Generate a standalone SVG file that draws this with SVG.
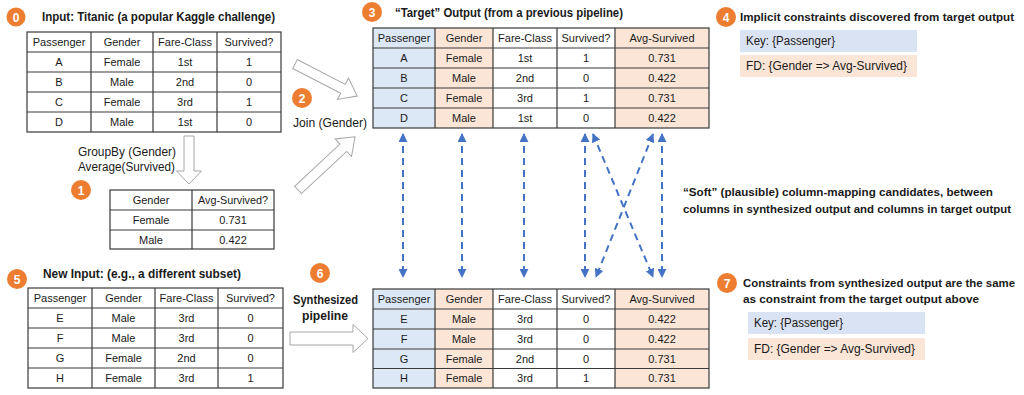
<svg xmlns="http://www.w3.org/2000/svg" width="1024" height="395" viewBox="0 0 1024 395">
<style>
text{font-family:"Liberation Sans",Arial,sans-serif;fill:#1a1a1a}
.c{font-size:11px;text-anchor:middle}
.t{font-size:12px;font-weight:bold}
.ts{font-size:10.8px;font-weight:bold}
.r{font-size:12px}
.grid{stroke:#3a3a3a;stroke-width:1.2;fill:none}
.blue{fill:#dce8f5}
.kblue{fill:#dae3f3}
.pink{fill:#fbe5d6}
.num circle{fill:#ed7d31}
.num text{fill:#fff;font-size:12px;font-weight:bold;text-anchor:middle}
.hollow{fill:#fff;stroke:#a6a6a6;stroke-width:1}
.dash{stroke:#4472c4;stroke-width:2;stroke-dasharray:7,5;fill:none}
</style>
<defs>
<marker id="ah" viewBox="0 0 10 10" refX="9" refY="5" markerWidth="4.5" markerHeight="4.5" orient="auto-start-reverse" markerUnits="strokeWidth">
<path d="M0,0 L10,5 L0,10 z" fill="#4472c4"/>
</marker>
</defs>
<rect width="1024" height="395" fill="#fff"/>

<!-- Node 0: input table -->
<g id="node0">
<g class="num"><circle cx="16" cy="17" r="9.5"/><text x="16" y="21.5">0</text></g>
<text class="t" x="42" y="21" textLength="233" lengthAdjust="spacingAndGlyphs">Input: Titanic (a popular Kaggle challenge)</text>
<rect class="grid" x="27" y="32" width="254" height="100"/>
<path class="grid" d="M27,52H281M27,72H281M27,92H281M27,112H281M91,32V132M153,32V132M217,32V132"/>
<text class="c" x="59" y="46">Passenger</text><text class="c" x="122" y="46">Gender</text><text class="c" x="185" y="46">Fare-Class</text><text class="c" x="249" y="46">Survived?</text>
<text class="c" x="59" y="66">A</text><text class="c" x="122" y="66">Female</text><text class="c" x="185" y="66">1st</text><text class="c" x="249" y="66">1</text>
<text class="c" x="59" y="86">B</text><text class="c" x="122" y="86">Male</text><text class="c" x="185" y="86">2nd</text><text class="c" x="249" y="86">0</text>
<text class="c" x="59" y="106">C</text><text class="c" x="122" y="106">Female</text><text class="c" x="185" y="106">3rd</text><text class="c" x="249" y="106">1</text>
<text class="c" x="59" y="126">D</text><text class="c" x="122" y="126">Male</text><text class="c" x="185" y="126">1st</text><text class="c" x="249" y="126">0</text>
</g>

<!-- Node 1: groupby table -->
<g id="node1">
<text class="r" x="78" y="156" textLength="98" lengthAdjust="spacingAndGlyphs">GroupBy (Gender)</text>
<text class="r" x="78" y="171" textLength="97" lengthAdjust="spacingAndGlyphs">Average(Survived)</text>
<g class="num"><circle cx="81" cy="190" r="10"/><text x="81" y="194.5">1</text></g>
<rect class="grid" x="110" y="190" width="164" height="59"/>
<path class="grid" d="M110,210H274M110,230H274M192,190V249"/>
<text class="c" x="151" y="204">Gender</text><text class="c" x="233" y="204" textLength="70" lengthAdjust="spacingAndGlyphs">Avg-Survived?</text>
<text class="c" x="151" y="224">Female</text><text class="c" x="233" y="224">0.731</text>
<text class="c" x="151" y="244">Male</text><text class="c" x="233" y="244">0.422</text>
</g>

<!-- Node 2: join -->
<g id="node2">
<g class="num"><circle cx="302" cy="98" r="10"/><text x="302" y="102.5">2</text></g>
<text class="r" x="293" y="127" textLength="74" lengthAdjust="spacingAndGlyphs">Join (Gender)</text>
</g>

<!-- Node 3: target output -->
<g id="node3">
<g class="num"><circle cx="372" cy="12" r="10"/><text x="372" y="16.5">3</text></g>
<text class="t" x="395" y="17" textLength="228" lengthAdjust="spacingAndGlyphs">“Target” Output (from a previous pipeline)</text>
<rect class="blue" x="373" y="28" width="62" height="100"/>
<rect class="pink" x="435" y="28" width="58" height="100"/>
<rect class="pink" x="615" y="28" width="94" height="100"/>
<rect class="grid" x="373" y="28" width="336" height="100"/>
<path class="grid" d="M373,48H709M373,68H709M373,88H709M373,108H709M435,28V128M493,28V128M557,28V128M615,28V128"/>
<text class="c" x="404" y="42">Passenger</text><text class="c" x="464" y="42">Gender</text><text class="c" x="525" y="42">Fare-Class</text><text class="c" x="586" y="42">Survived?</text><text class="c" x="662" y="42">Avg-Survived</text>
<text class="c" x="404" y="62">A</text><text class="c" x="464" y="62">Female</text><text class="c" x="525" y="62">1st</text><text class="c" x="586" y="62">1</text><text class="c" x="662" y="62">0.731</text>
<text class="c" x="404" y="82">B</text><text class="c" x="464" y="82">Male</text><text class="c" x="525" y="82">2nd</text><text class="c" x="586" y="82">0</text><text class="c" x="662" y="82">0.422</text>
<text class="c" x="404" y="102">C</text><text class="c" x="464" y="102">Female</text><text class="c" x="525" y="102">3rd</text><text class="c" x="586" y="102">1</text><text class="c" x="662" y="102">0.731</text>
<text class="c" x="404" y="122">D</text><text class="c" x="464" y="122">Male</text><text class="c" x="525" y="122">1st</text><text class="c" x="586" y="122">0</text><text class="c" x="662" y="122">0.422</text>
</g>

<!-- Node 4: constraints -->
<g id="node4">
<g class="num"><circle cx="726" cy="17" r="10"/><text x="726" y="21.5">4</text></g>
<text class="ts" x="740" y="21" textLength="274" lengthAdjust="spacingAndGlyphs">Implicit constraints discovered from target output</text>
<rect class="kblue" x="740" y="30" width="177" height="22"/>
<rect class="pink" x="740" y="55" width="177" height="22"/>
<text class="r" x="746" y="45" textLength="89" lengthAdjust="spacingAndGlyphs">Key: {Passenger}</text>
<text class="r" x="746" y="70" textLength="161" lengthAdjust="spacingAndGlyphs">FD: {Gender =&gt; Avg-Survived}</text>
</g>

<!-- Node 5: new input -->
<g id="node5">
<g class="num"><circle cx="17" cy="279" r="10"/><text x="17" y="283.5">5</text></g>
<text class="t" x="43" y="278" textLength="198" lengthAdjust="spacingAndGlyphs">New Input: (e.g., a different subset)</text>
<rect class="grid" x="28" y="288" width="255" height="100"/>
<path class="grid" d="M28,308H283M28,328H283M28,348H283M28,368H283M92,288V388M155,288V388M218,288V388"/>
<text class="c" x="60" y="302">Passenger</text><text class="c" x="123.5" y="302">Gender</text><text class="c" x="186.5" y="302">Fare-Class</text><text class="c" x="250.5" y="302">Survived?</text>
<text class="c" x="60" y="322">E</text><text class="c" x="123.5" y="322">Male</text><text class="c" x="186.5" y="322">3rd</text><text class="c" x="250.5" y="322">0</text>
<text class="c" x="60" y="342">F</text><text class="c" x="123.5" y="342">Male</text><text class="c" x="186.5" y="342">3rd</text><text class="c" x="250.5" y="342">0</text>
<text class="c" x="60" y="362">G</text><text class="c" x="123.5" y="362">Female</text><text class="c" x="186.5" y="362">2nd</text><text class="c" x="250.5" y="362">0</text>
<text class="c" x="60" y="382">H</text><text class="c" x="123.5" y="382">Female</text><text class="c" x="186.5" y="382">3rd</text><text class="c" x="250.5" y="382">1</text>
</g>

<!-- Node 6: synthesized pipeline -->
<g id="node6">
<g class="num"><circle cx="320" cy="273" r="10"/><text x="320" y="277.5">6</text></g>
<text class="t" x="325.5" y="304" text-anchor="middle" textLength="65" lengthAdjust="spacingAndGlyphs">Synthesized</text>
<text class="t" x="325" y="320" text-anchor="middle" textLength="46" lengthAdjust="spacingAndGlyphs">pipeline</text>
</g>

<!-- Synthesized output table -->
<g id="synth-output">
<rect class="blue" x="373" y="289" width="62" height="99"/>
<rect class="pink" x="435" y="289" width="58" height="99"/>
<rect class="pink" x="615" y="289" width="94" height="99"/>
<rect class="grid" x="373" y="289" width="336" height="99"/>
<path class="grid" d="M373,309H709M373,329H709M373,349H709M373,368.5H709M435,289V388M493,289V388M557,289V388M615,289V388"/>
<text class="c" x="404" y="303">Passenger</text><text class="c" x="464" y="303">Gender</text><text class="c" x="525" y="303">Fare-Class</text><text class="c" x="586" y="303">Survived?</text><text class="c" x="662" y="303">Avg-Survived</text>
<text class="c" x="404" y="323">E</text><text class="c" x="464" y="323">Male</text><text class="c" x="525" y="323">3rd</text><text class="c" x="586" y="323">0</text><text class="c" x="662" y="323">0.422</text>
<text class="c" x="404" y="343">F</text><text class="c" x="464" y="343">Male</text><text class="c" x="525" y="343">3rd</text><text class="c" x="586" y="343">0</text><text class="c" x="662" y="343">0.422</text>
<text class="c" x="404" y="362.5">G</text><text class="c" x="464" y="362.5">Female</text><text class="c" x="525" y="362.5">2nd</text><text class="c" x="586" y="362.5">0</text><text class="c" x="662" y="362.5">0.731</text>
<text class="c" x="404" y="382">H</text><text class="c" x="464" y="382">Female</text><text class="c" x="525" y="382">3rd</text><text class="c" x="586" y="382">1</text><text class="c" x="662" y="382">0.731</text>
</g>

<!-- Soft mapping label -->
<g id="soft-label">
<text class="ts" x="683" y="196" textLength="310" lengthAdjust="spacingAndGlyphs">“Soft” (plausible) column-mapping candidates, between</text>
<text class="ts" x="683" y="213" textLength="328" lengthAdjust="spacingAndGlyphs">columns in synthesized output and columns in target output</text>
</g>

<!-- Node 7 -->
<g id="node7">
<g class="num"><circle cx="727" cy="283" r="10"/><text x="727" y="287.5">7</text></g>
<text class="ts" x="743" y="287" textLength="272" lengthAdjust="spacingAndGlyphs">Constraints from synthesized output are the same</text>
<text class="ts" x="743" y="303" textLength="236" lengthAdjust="spacingAndGlyphs">as constraint from the target output above</text>
<rect class="kblue" x="748" y="312" width="177" height="22"/>
<rect class="pink" x="748" y="338" width="177" height="22"/>
<text class="r" x="754" y="327" textLength="89" lengthAdjust="spacingAndGlyphs">Key: {Passenger}</text>
<text class="r" x="754" y="353" textLength="161" lengthAdjust="spacingAndGlyphs">FD: {Gender =&gt; Avg-Survived}</text>
</g>

<!-- Connectors -->
<g id="connectors">
<polygon class="hollow" transform="translate(189,136) rotate(90)" points="0,-5 35,-5 35,-12.5 48,0 35,12.5 35,5 0,5"/>
<polygon class="hollow" transform="translate(295,64) rotate(27.3)" points="0,-5 54,-5 54,-12 70,0 54,12 54,5 0,5"/>
<polygon class="hollow" transform="translate(298,190) rotate(-43)" points="0,-5 62,-5 62,-12 78,0 62,12 62,5 0,5"/>
<polygon class="hollow" transform="translate(290,338.5)" points="0,-6.5 63,-6.5 63,-14 78,0 63,14 63,6.5 0,6.5"/>
<line class="dash" x1="403" y1="134" x2="403" y2="277" marker-start="url(#ah)" marker-end="url(#ah)"/>
<line class="dash" x1="462" y1="134" x2="462" y2="277" marker-start="url(#ah)" marker-end="url(#ah)"/>
<line class="dash" x1="524" y1="134" x2="524" y2="277" marker-start="url(#ah)" marker-end="url(#ah)"/>
<line class="dash" x1="585" y1="134" x2="585" y2="277" marker-start="url(#ah)" marker-end="url(#ah)"/>
<line class="dash" x1="662" y1="134" x2="662" y2="277" marker-start="url(#ah)" marker-end="url(#ah)"/>
<line class="dash" x1="593" y1="134" x2="653" y2="277" marker-start="url(#ah)" marker-end="url(#ah)"/>
<line class="dash" x1="653" y1="134" x2="596" y2="277" marker-start="url(#ah)" marker-end="url(#ah)"/>
</g>
</svg>
